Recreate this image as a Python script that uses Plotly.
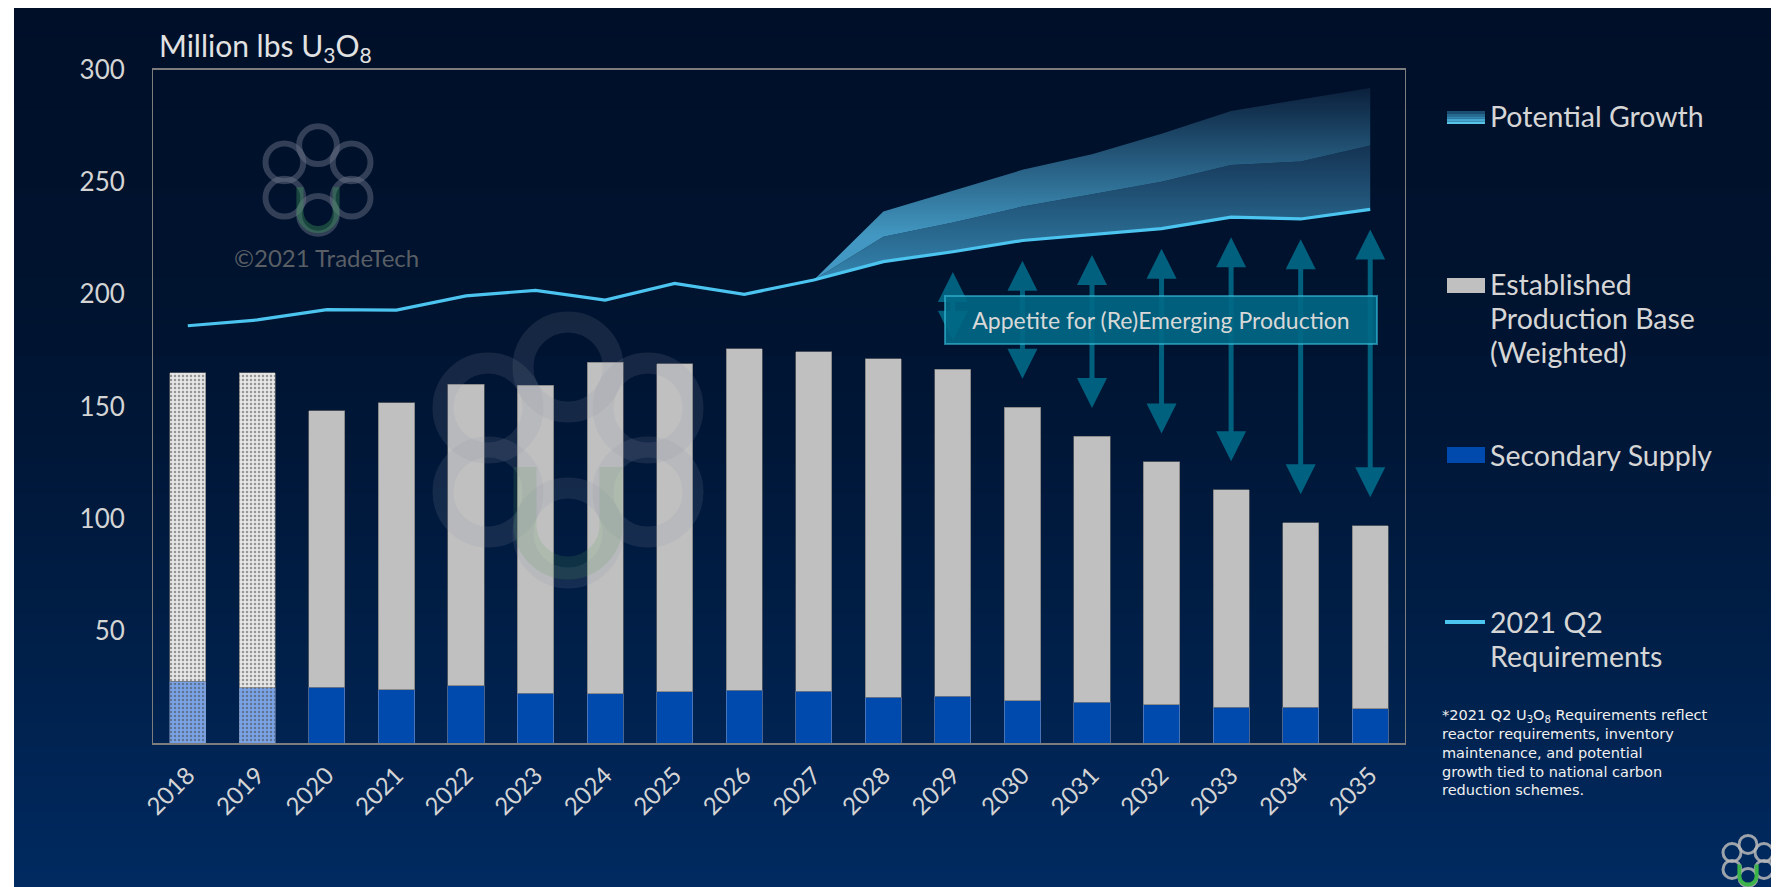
import plotly.graph_objects as go

# ---------------- data ----------------
years = [str(y) for y in range(2018, 2036)]
secondary_supply = [27.5, 24.6, 24.9, 23.7, 25.5, 22.2, 21.9, 22.9, 23.6, 23.1,
                    20.3, 20.9, 18.8, 18.2, 17.1, 15.9, 15.9, 15.3]
established_base = [137.5, 140.4, 123.1, 128.0, 134.4, 137.3, 147.8, 146.1, 152.2, 151.2,
                    150.9, 145.7, 130.9, 118.5, 108.2, 97.0, 82.3, 81.6]
requirements = [186.0, 188.6, 193.2, 193.0, 199.3, 201.8, 197.4, 204.9, 200.0, 206.4,
                214.6, 219.0, 224.0, 226.5, 229.3, 234.4, 233.6, 237.9]
growth_years = years[9:]
growth_mid = [206.4, 225.7, 232.0, 239.1, 244.6, 250.2, 257.7, 259.2, 266.3]
growth_top = [206.4, 236.9, 246.2, 255.5, 262.5, 271.6, 281.7, 286.7, 292.0]
historical_years = ["2018", "2019"]
appetite_years = years[11:]
y_ticks = [50, 100, 150, 200, 250, 300]

# ---------------- geometry helpers (screen pixel coords) ----------------
W, H = 1779, 887
OFF = 8                      # page body margin
L, R, T, B = 153, 1405, 70, 743
FONT = "Lato"


def px(x):
    return (x - L) / (R - L)


def py(y):
    return (B - y) / (B - T)


def hexcol(c):
    return "rgb(%d,%d,%d)" % c


shapes = []
annotations = []

# background gradient
stops = [(0, (0, 15, 40)), (300, (0, 19, 47)), (450, (0, 23, 56)), (600, (0, 29, 68)),
         (780, (0, 37, 86)), (900, (0, 43, 98))]


def bg_at(y):
    for (y0, c0), (y1, c1) in zip(stops[:-1], stops[1:]):
        if y0 <= y <= y1:
            t = (y - y0) / (y1 - y0)
            return tuple(int(round(a + (b - a) * t)) for a, b in zip(c0, c1))
    return stops[-1][1]


step = 6
y = OFF
while y < H + OFF:
    y2 = y + step
    shapes.append(dict(type="rect", xref="paper", yref="paper", layer="below",
                       x0=px(14), x1=px(W + OFF), y0=py(y2 + 0.5), y1=py(y),
                       fillcolor=hexcol(bg_at((y + y2) / 2)), line=dict(width=0)))
    y = y2


# logos (decorative watermarks)
def logo(cx, cy, s, ring_color, u_color, ring_w, u_w):
    offs = [(0, -83), (-80, -42), (80, -42), (-80, 42), (80, 42), (0, 83)]
    r = 45 * s
    for dx, dy in offs:
        x, yy = cx + dx * s, cy + dy * s
        shapes.append(dict(type="circle", xref="paper", yref="paper", layer="above",
                           x0=px(x - r), x1=px(x + r), y0=py(yy + r), y1=py(yy - r),
                           line=dict(color=ring_color, width=ring_w)))
    hw = 43 * s
    top = cy + 17 * s
    ac = cy + 75 * s
    k = 0.5523
    pts = [
        ("M", [(cx - hw, top)]),
        ("L", [(cx - hw, ac)]),
        ("C", [(cx - hw, ac + k * hw), (cx - k * hw, ac + hw), (cx, ac + hw)]),
        ("C", [(cx + k * hw, ac + hw), (cx + hw, ac + k * hw), (cx + hw, ac)]),
        ("L", [(cx + hw, top)]),
    ]
    path = " ".join(cmd + " " + " ".join("%.5f,%.5f" % (px(a), py(b)) for a, b in p) for cmd, p in pts)
    shapes.append(dict(type="path", xref="paper", yref="paper", layer="above", path=path,
                       line=dict(color=u_color, width=u_w)))


logo(568, 450, 1.0, "rgba(140,150,170,0.15)", "rgba(90,160,90,0.17)", 21, 23)
logo(318, 180, 0.42, "rgba(110,120,140,0.45)", "rgba(60,150,90,0.40)", 6, 7)
logo(1748, 861, 0.2, "rgba(185,185,185,0.85)", "#3cb44a", 3, 4)

annotations.append(dict(xref="paper", yref="paper", x=px(326), y=py(257), text="©2021 TradeTech",
                        showarrow=False, xanchor="center", yanchor="middle",
                        font=dict(family=FONT, size=24, color="rgba(120,120,120,0.75)")))

# ---------------- traces ----------------
totals = [a + b for a, b in zip(secondary_supply, established_base)]
hist = [y in historical_years for y in years]

fig = go.Figure()
fig.add_trace(go.Bar(
    x=years, y=secondary_supply, name="Secondary Supply",
    marker=dict(color=["#7aa3e6" if h else "#004aad" for h in hist],
                line=dict(width=0.8, color="rgba(130,150,190,0.7)"),
                pattern=dict(shape=["." if h else "" for h in hist],
                             fgcolor="rgba(40,100,210,0.8)", size=4, solidity=0.3)),
    hoverinfo="skip"))
fig.add_trace(go.Bar(
    x=years, y=established_base, name="Established Production Base (Weighted)",
    marker=dict(color=["#e6e6e6" if h else "#c0c0c0" for h in hist],
                line=dict(width=0.8, color="rgba(110,110,110,0.8)"),
                pattern=dict(shape=["." if h else "" for h in hist],
                             fgcolor="#cdcdcd", size=4, solidity=0.3)),
    hoverinfo="skip"))

fig.add_trace(go.Scatter(x=growth_years, y=requirements[9:], mode="lines",
                         line=dict(width=0, color="rgba(0,0,0,0)"), hoverinfo="skip"))
fig.add_trace(go.Scatter(x=growth_years, y=growth_mid, mode="lines", fill="tonexty",
                         line=dict(width=0, color="rgba(0,0,0,0)"),
                         fillgradient=dict(type="vertical", start=207, stop=267,
                                           colorscale=[[0, "rgb(52,132,174)"], [1, "rgb(20,50,82)"]]),
                         hoverinfo="skip"))
fig.add_trace(go.Scatter(x=growth_years, y=growth_top, mode="lines", fill="tonexty",
                         line=dict(width=0, color="rgba(0,0,0,0)"),
                         fillgradient=dict(type="vertical", start=226, stop=293,
                                           colorscale=[[0, "rgb(66,152,194)"], [1, "rgb(10,30,58)"]]),
                         hoverinfo="skip"))
fig.add_trace(go.Scatter(x=years, y=requirements, mode="lines", name="2021 Q2 Requirements",
                         line=dict(color="#4cc4f0", width=3.2), hoverinfo="skip"))

# ---------------- appetite arrows + box ----------------
for yr in appetite_years:
    i = years.index(yr)
    annotations.append(dict(x=i, y=requirements[i] - 9, ax=i, ay=totals[i] + 12,
                            xref="x", yref="y", axref="x", ayref="y", text="",
                            showarrow=True, arrowhead=2, arrowside="end+start",
                            arrowsize=1.2, arrowwidth=5, arrowcolor="rgba(0,122,152,0.75)"))
annotations.append(dict(xref="paper", yref="paper", x=px(1161), y=py(320),
                        text="Appetite for (Re)Emerging Production", showarrow=False,
                        xanchor="center", yanchor="middle", width=428, height=44,
                        bgcolor="rgba(0,104,134,0.9)", bordercolor="rgba(60,200,230,0.55)",
                        borderwidth=2, font=dict(family=FONT, size=23, color="#d8d8d8")))

# ---------------- title ----------------
annotations.append(dict(xref="paper", yref="paper", x=px(157), y=py(47),
                        text="Million lbs U<sub>3</sub>O<sub>8</sub>", showarrow=False,
                        xanchor="left", yanchor="middle",
                        font=dict(family=FONT, size=30, color="#e2e2e2")))

# ---------------- legend (manual) ----------------
LX0, LX1, TX = 1447, 1485, 1488
leg_font = dict(family=FONT, size=28.5, color="#d6d6d6")
grad = ["#1b4e72", "#266a92", "#3386b0", "#44a6cf", "#58c4ea"]
for j, c in enumerate(grad):
    y0 = 111 + j * 2.6
    shapes.append(dict(type="rect", xref="paper", yref="paper", x0=px(LX0), x1=px(LX1),
                       y0=py(y0 + 2.6), y1=py(y0), fillcolor=c, line=dict(width=0)))


def leg_text(lines, y_first, gap=34):
    for k, t in enumerate(lines):
        annotations.append(dict(xref="paper", yref="paper", x=px(TX), y=py(y_first + k * gap),
                                text=t, showarrow=False, xanchor="left", yanchor="middle",
                                font=leg_font))


leg_text(["Potential Growth"], 116)
shapes.append(dict(type="rect", xref="paper", yref="paper", x0=px(LX0), x1=px(LX1),
                   y0=py(293), y1=py(278), fillcolor="#c0c0c0", line=dict(width=0)))
leg_text(["Established", "Production Base", "(Weighted)"], 284)
shapes.append(dict(type="rect", xref="paper", yref="paper", x0=px(LX0), x1=px(LX1),
                   y0=py(463), y1=py(447), fillcolor="#004aad", line=dict(width=0)))
leg_text(["Secondary Supply"], 455)
shapes.append(dict(type="line", xref="paper", yref="paper", x0=px(LX0 - 2), x1=px(LX1),
                   y0=py(622), y1=py(622), line=dict(color="#4cc4f0", width=4)))
leg_text(["2021 Q2", "Requirements"], 622)

foot = "*2021 Q2 U<sub>3</sub>O<sub>8</sub> Requirements reflect<br>reactor requirements, inventory<br>" \
       "maintenance, and potential<br>growth tied to national carbon<br>reduction schemes."
annotations.append(dict(xref="paper", yref="paper", x=px(1440), y=py(705),
                        text=foot, showarrow=False, xanchor="left", yanchor="top", align="left",
                        font=dict(family="DejaVu Sans", size=14.5, color="#f0f0f0")))

# ---------------- layout ----------------
fig.update_layout(
    width=W, height=H,
    margin=dict(l=L - OFF, r=W - (R - OFF), t=T - OFF, b=H - (B - OFF), pad=0),
    paper_bgcolor="#ffffff", plot_bgcolor="rgba(0,0,0,0)",
    barmode="stack", bargap=0.48, showlegend=False,
    font=dict(family=FONT, color="#d4d4d4"),
    shapes=shapes, annotations=annotations,
    xaxis=dict(type="category", range=[-0.5, len(years) - 0.5], autorange=False,
               showline=True, mirror=True, linecolor="#7d7d7d", linewidth=1.5,
               showgrid=False, zeroline=False, ticks="", tickangle=-45, ticklabelstandoff=7,
               tickfont=dict(family=FONT, size=24, color="#d4d4d4"), fixedrange=True),
    yaxis=dict(range=[0, 300], autorange=False, tickvals=y_ticks, showline=True, mirror=True,
               linecolor="#7d7d7d", linewidth=1, showgrid=False, zeroline=False, ticks="",
               ticklabelstandoff=22, tickfont=dict(family=FONT, size=26, color="#d4d4d4"),
               fixedrange=True),
)

fig.write_html("out.html")
